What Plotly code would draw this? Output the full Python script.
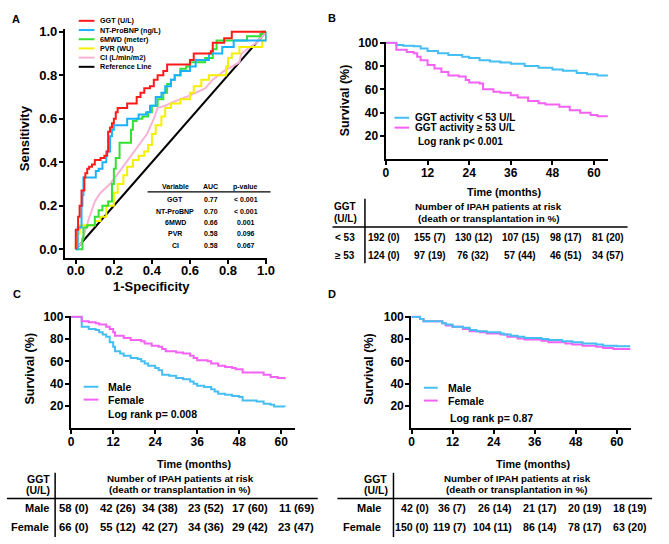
import plotly.graph_objects as go

W, H = 669, 544
FONT = "Liberation Sans, Arial, sans-serif"

# ---------------- DATA ----------------
# Panel A: ROC curves (1-specificity, sensitivity)
ggt_fpr = [0, 0, 0.012, 0.02, 0.03, 0.045, 0.05, 0.06, 0.07, 0.085, 0.10, 0.13, 0.15, 0.165, 0.17, 0.18, 0.19, 0.2, 0.21, 0.22, 0.26, 0.27, 0.3, 0.32, 0.34, 0.36, 0.39, 0.41, 0.43, 0.46, 0.48, 0.55, 0.6, 0.62, 0.71, 0.72, 0.78, 0.82, 1.0]
ggt_tpr = [0, 0.09, 0.15, 0.2, 0.27, 0.33, 0.35, 0.37, 0.38, 0.39, 0.41, 0.42, 0.43, 0.45, 0.54, 0.56, 0.58, 0.6, 0.63, 0.65, 0.65, 0.67, 0.67, 0.7, 0.72, 0.74, 0.75, 0.78, 0.8, 0.82, 0.85, 0.85, 0.87, 0.9, 0.91, 0.95, 0.97, 1.0, 1.0]
bnp_fpr = [0, 0.01, 0.02, 0.03, 0.035, 0.04, 0.105, 0.12, 0.14, 0.16, 0.18, 0.19, 0.2, 0.25, 0.27, 0.33, 0.37, 0.39, 0.42, 0.45, 0.47, 0.5, 0.52, 0.55, 0.6, 0.63, 0.7, 0.77, 0.83, 0.99, 1.0]
bnp_tpr = [0, 0.1, 0.1, 0.2, 0.25, 0.33, 0.36, 0.37, 0.4, 0.45, 0.52, 0.55, 0.57, 0.57, 0.6, 0.62, 0.63, 0.66, 0.7, 0.72, 0.75, 0.78, 0.8, 0.82, 0.84, 0.87, 0.9, 0.93, 0.96, 0.96, 1.0]
mwd_fpr = [0, 0.03, 0.035, 0.04, 0.06, 0.09, 0.1, 0.12, 0.14, 0.17, 0.19, 0.2, 0.21, 0.23, 0.28, 0.29, 0.3, 0.32, 0.35, 0.38, 0.4, 0.43, 0.46, 0.48, 0.5, 0.52, 0.55, 0.58, 0.6, 0.68, 0.72, 0.74, 0.88, 0.9, 0.97, 0.98, 1.0]
mwd_tpr = [0, 0, 0.05, 0.1, 0.11, 0.11, 0.15, 0.18, 0.2, 0.22, 0.3, 0.37, 0.42, 0.49, 0.49, 0.55, 0.59, 0.6, 0.61, 0.63, 0.66, 0.69, 0.72, 0.76, 0.78, 0.8, 0.83, 0.84, 0.86, 0.88, 0.92, 0.96, 0.96, 0.98, 0.99, 1.0, 1.0]
pvr_fpr = [0, 0, 0.01, 0.02, 0.08, 0.1, 0.13, 0.16, 0.2, 0.22, 0.25, 0.27, 0.3, 0.33, 0.36, 0.38, 0.4, 0.42, 0.45, 0.47, 0.5, 0.55, 0.6, 0.62, 0.66, 0.7, 0.78, 0.79, 0.8, 0.82, 0.86, 0.96, 0.98, 1.0]
pvr_tpr = [0, 0.03, 0.07, 0.11, 0.11, 0.13, 0.15, 0.2, 0.26, 0.3, 0.34, 0.38, 0.41, 0.43, 0.45, 0.48, 0.53, 0.57, 0.61, 0.65, 0.67, 0.69, 0.72, 0.75, 0.78, 0.8, 0.8, 0.84, 0.88, 0.9, 0.93, 0.93, 0.96, 1.0]
ci_fpr = [0, 0.03, 0.065, 0.1, 0.13, 0.18, 0.24, 0.29, 0.33, 0.374, 0.41, 0.43, 0.47, 0.52, 0.58, 0.63, 0.68, 0.72, 0.78, 0.82, 0.86, 0.87, 0.9, 0.95, 1.0]
ci_tpr = [0, 0.03, 0.13, 0.22, 0.26, 0.3, 0.37, 0.43, 0.48, 0.53, 0.6, 0.65, 0.66, 0.68, 0.7, 0.72, 0.74, 0.78, 0.82, 0.84, 0.86, 0.9, 0.92, 0.95, 1.0]
roc_names = ["GGT (U/L)", "NT-ProBNP (ng/L)", "6MWD (meter)", "PVR (WU)", "CI (L/min/m2)", "Reference Line"]
roc_vars = ["GGT", "NT-ProBNP", "6MWD", "PVR", "CI"]
roc_auc = ["0.77", "0.70", "0.66", "0.58", "0.58"]
roc_p = ["< 0.001", "< 0.001", "0.001", "0.096", "0.067"]

# Panel B: Kaplan-Meier by GGT activity
b_low_t = [0, 3, 5, 8, 10, 12, 15, 18, 22, 24, 27, 30, 33, 36, 40, 44, 48, 51, 55, 58, 61, 64]
b_low_s = [100, 98, 97.5, 97, 95, 93, 91, 89.5, 88, 87, 85, 84, 83, 82, 80, 78.5, 77, 76, 74, 73, 72, 71.5]
b_high_t = [0, 3, 6, 8, 9, 10, 12, 14, 16, 18, 21, 23, 24, 27, 28, 31, 33, 36, 38, 41, 44, 46, 50, 53, 56, 59, 61, 64]
b_high_s = [100, 94, 92, 91, 88, 85, 81, 78, 75, 72, 71, 68, 66, 65, 60, 58, 57, 55, 53, 50, 48, 47, 45, 42, 40, 38, 37, 37]
b_groups = ["GGT activity < 53 U/L", "GGT activity \u2265 53 U/L"]
b_logrank = "Log rank p< 0.001"
b_rows = ["< 53", "\u2265 53"]
b_risk = [["192 (0)", "155 (7)", "130 (12)", "107 (15)", "98 (17)", "81 (20)"],
          ["124 (0)", "97 (19)", "76 (32)", "57 (44)", "46 (51)", "34 (57)"]]

# Panel C: Kaplan-Meier by sex
c_male_t = [0, 3, 5, 7, 8, 9, 10, 11, 12, 12.5, 14, 15, 17, 19, 20, 21, 22, 24, 25, 26, 28, 30, 32, 34, 35, 36, 38, 40, 41, 42, 44, 46, 48, 49, 51, 53, 55, 57, 58, 61]
c_male_s = [100, 91, 89, 88, 86, 84, 82, 77, 73, 69, 67, 65, 63, 62, 60, 58, 56, 54, 52, 48, 47, 45, 44, 42, 40, 38, 37, 35, 33, 31, 30, 29, 28, 25, 25, 24, 22, 21, 19.5, 19]
c_fem_t = [0, 3, 5, 7, 8, 10, 11, 12, 12.5, 15, 17, 20, 21, 23, 25, 26, 27, 30, 32, 34, 35, 36, 39, 40, 42, 44, 46, 47, 49, 53, 55, 57, 59, 61]
c_fem_s = [100, 96, 95, 94, 93, 91, 89, 86, 83, 81, 79, 78, 76, 74, 73, 71, 69, 68, 67, 65, 63, 61, 60, 58, 56, 55, 54, 53, 50, 50, 48, 46, 45, 44]
c_logrank = "Log rank p= 0.008"
c_risk = [["58 (0)", "42 (26)", "34 (38)", "23 (52)", "17 (60)", "11 (69)"],
          ["66 (0)", "55 (12)", "42 (27)", "34 (36)", "29 (42)", "23 (47)"]]

# Panel D: Kaplan-Meier by sex
d_male_t = [0, 2.5, 3.5, 8, 9, 10, 12, 15, 17, 19, 22, 26, 27, 29, 31, 33, 38, 40, 44, 47, 50, 54, 56, 60, 64]
d_male_s = [100, 98, 96, 96, 94, 93, 91, 90, 88, 87, 86, 85, 84, 83, 82, 81, 80, 79, 78, 77, 76, 75, 74, 73.5, 73.5]
d_fem_t = [0, 2.5, 3.5, 8, 9, 10, 12, 15, 17, 20, 22, 26, 28, 31, 33, 38, 40, 45, 47, 50, 54, 56, 59, 64]
d_fem_s = [100, 98, 96, 96, 94, 92, 91, 89, 87, 86, 85, 84, 82, 80.5, 79.5, 78.5, 77, 76, 75, 74, 73, 72, 71, 71]
d_logrank = "Log rank p= 0.87"
d_risk = [["42 (0)", "36 (7)", "26 (14)", "21 (17)", "20 (19)", "18 (19)"],
          ["150 (0)", "119 (7)", "104 (11)", "86 (14)", "78 (17)", "63 (20)"]]
sex_groups = ["Male", "Female"]
risk_title = ["Number of IPAH patients at risk", "(death or transplantation in %)"]

# ---------------- STYLE ----------------
RED, BLUE_ROC, GREEN, YELLOW, PINK = "#ff1a1a", "#1ab2ff", "#33e033", "#f5f000", "#f7b3d6"
KM_BLUE, KM_MAG = "#45bff2", "#f462f4"

fig = go.Figure()
ann = []
shapes = []

def px(x):
    return x / W

def py(y):
    return 1 - y / H

def txt(x, y, s, size, anchor="center", angle=0, color="black"):
    ann.append(dict(x=px(x), y=py(y), xref="paper", yref="paper", text=s, showarrow=False,
                    xanchor=anchor, yanchor="middle", textangle=angle,
                    font=dict(family=FONT, size=size, color=color, weight="bold")))

def hline(x0, x1, y, color="black", width=1.5):
    shapes.append(dict(type="line", xref="paper", yref="paper", x0=px(x0), x1=px(x1),
                       y0=py(y), y1=py(y), line=dict(color=color, width=width)))

def vline(x, y0, y1, color="black", width=1.5):
    shapes.append(dict(type="line", xref="paper", yref="paper", x0=px(x), x1=px(x),
                       y0=py(y0), y1=py(y1), line=dict(color=color, width=width)))

def axis_style(domain, rng, tickvals, fmt, size, standoff=0):
    return dict(domain=domain, range=rng, tickvals=tickvals, tickformat=fmt,
                showline=True, linewidth=2, linecolor="black", ticks="outside",
                ticklen=4, tickwidth=2, tickcolor="black", showgrid=False, zeroline=False,
                ticklabelstandoff=standoff,
                tickfont=dict(family=FONT, size=size, color="black", weight="bold"))

# ---------------- PANEL A ----------------
roc_sets = [(ggt_fpr, ggt_tpr, RED, "hv"), (bnp_fpr, bnp_tpr, BLUE_ROC, "hv"),
            (mwd_fpr, mwd_tpr, GREEN, "hv"), (pvr_fpr, pvr_tpr, YELLOW, "hv"),
            (ci_fpr, ci_tpr, PINK, "linear")]
fig.add_trace(go.Scatter(x=[0, 1], y=[0, 1], mode="lines", line=dict(color="black", width=2),
                         xaxis="x", yaxis="y", showlegend=False, hoverinfo="skip"))
for (fx, fy, col, shp) in reversed(roc_sets):
    fig.add_trace(go.Scatter(x=fx, y=fy, mode="lines", line=dict(color=col, width=2, shape=shp),
                             xaxis="x", yaxis="y", showlegend=False))

leg_cols = [RED, BLUE_ROC, GREEN, YELLOW, PINK, "black"]
for i, (name, col) in enumerate(zip(roc_names, leg_cols)):
    yy = 15 + i * 9.3
    hline(77, 93, yy, color=col, width=2)
    txt(97, yy, name, 7.2, anchor="left")

txt(175, 183, "Variable", 7)
txt(211, 183, "AUC", 7)
txt(247, 183, "p-value", 7)
hline(147, 272, 188, width=1.2)
for i in range(len(roc_vars)):
    yy = 196 + i * 11.5
    txt(175, yy, roc_vars[i], 7)
    txt(211, yy, roc_auc[i], 7)
    txt(247, yy, roc_p[i], 7)

txt(13, 13, "A", 11)
txt(22, 134, "Sensitivity", 13, angle=-90)
txt(151, 284, "1-Specificity", 13)

# ---------------- KM PANELS ----------------
def km(t, s, col, xa, ya):
    fig.add_trace(go.Scatter(x=t, y=s, mode="lines", line=dict(color=col, width=2, shape="hv"),
                             xaxis=xa, yaxis=ya, showlegend=False))

km(b_low_t, b_low_s, KM_BLUE, "x2", "y2")
km(b_high_t, b_high_s, KM_MAG, "x2", "y2")
km(c_male_t, c_male_s, KM_BLUE, "x3", "y3")
km(c_fem_t, c_fem_s, KM_MAG, "x3", "y3")
km(d_fem_t, d_fem_s, KM_MAG, "x4", "y4")
km(d_male_t, d_male_s, KM_BLUE, "x4", "y4")

# Panel B labels
txt(334, 12, "B", 11)
txt(348, 95, "Survival (%)", 12.5, angle=-90)
txt(510, 188, "Time (months)", 10.8)
hline(398, 413, 113, color=KM_BLUE, width=2)
hline(398, 413, 123, color=KM_MAG, width=2)
txt(417, 113, b_groups[0], 10, anchor="left")
txt(417, 123, b_groups[1], 10, anchor="left")
txt(420, 137, b_logrank, 10, anchor="left")

# Panel C labels
txt(14, 291, "C", 11)
txt(27, 367, "Survival (%)", 12.5, angle=-90)
txt(195, 463, "Time (months)", 10.8)
hline(82, 97, 385, color=KM_BLUE, width=2)
hline(82, 97, 398, color=KM_MAG, width=2)
txt(105, 385, sex_groups[0], 10.5, anchor="left")
txt(105, 398, sex_groups[1], 10.5, anchor="left")
txt(105, 413, c_logrank, 10.5, anchor="left")

# Panel D labels
txt(334, 291, "D", 11)
txt(372, 367, "Survival (%)", 12.5, angle=-90)
txt(539, 463, "Time (months)", 10.8)
hline(428, 442, 386, color=KM_BLUE, width=2)
hline(428, 442, 399, color=KM_MAG, width=2)
txt(450, 386, sex_groups[0], 10.5, anchor="left")
txt(450, 399, sex_groups[1], 10.5, anchor="left")
txt(452, 417, d_logrank, 10.5, anchor="left")

# ---------------- RISK TABLES ----------------
# B table
txt(348, 203, "GGT", 10)
txt(348, 215, "(U/L)", 10)
vline(368, 195, 260)
hline(335, 635, 223.5)
txt(494, 203, risk_title[0], 9.8)
txt(494, 215, risk_title[1], 9.8)
b_cols = [387, 434, 478, 526, 572, 615]
for r in range(2):
    txt(348, 234 + r * 18, b_rows[r], 10)
    for c in range(6):
        txt(b_cols[c], 234 + r * 18, b_risk[r][c], 10)

# C table
txt(36, 478, "GGT", 10.5)
txt(36, 489, "(U/L)", 10.5)
vline(53, 472, 537)
hline(4, 320, 498)
txt(180, 478, risk_title[0], 9.8)
txt(180, 489, risk_title[1], 9.8)
c_cols = [72, 117, 160, 206, 251, 298]
for r in range(2):
    txt(49, 508 + r * 19, sex_groups[r], 11, anchor="right")
    for c in range(6):
        txt(c_cols[c], 508 + r * 19, c_risk[r][c], 11.3)

# D table
txt(379, 478, "GGT", 10.5)
txt(379, 489, "(U/L)", 10.5)
vline(397, 472, 537)
hline(340, 660, 498)
txt(523, 478, risk_title[0], 9.8)
txt(523, 489, risk_title[1], 9.8)
d_right = [435, 473, 520, 565, 611, 657]
for r in range(2):
    txt(386, 508 + r * 19, sex_groups[r], 11, anchor="right")
    for c in range(6):
        txt(d_right[c], 508 + r * 19, d_risk[r][c], 10.6, anchor="right")

# ---------------- AXES ----------------
roc_ticks = [0, 0.2, 0.4, 0.6, 0.8, 1.0]
km_xt = [0, 12, 24, 36, 48, 60]
km_yt = [20, 40, 60, 80, 100]

layout = dict(
    width=W, height=H, margin=dict(l=0, r=0, t=0, b=0),
    paper_bgcolor="white", plot_bgcolor="white", showlegend=False,
    xaxis=axis_style([px(63), px(268)], [-0.057, 1.003], roc_ticks, ".1f", 13, -5),
    yaxis=axis_style([py(255), py(23)], [-0.041, 1.014], roc_ticks, ".1f", 13, -1),
    xaxis2=axis_style([px(389), px(615)], [-0.1, 64], km_xt, "d", 12, -3),
    yaxis2=axis_style([py(155), py(36)], [0, 101], km_yt, "d", 12, -1),
    xaxis3=axis_style([px(69), px(297)], [-0.1, 64], km_xt, "d", 12, -3),
    yaxis3=axis_style([py(427), py(313)], [0, 101], km_yt, "d", 12, -1),
    xaxis4=axis_style([px(415), px(638)], [-0.1, 64], km_xt, "d", 12, -3),
    yaxis4=axis_style([py(427), py(313)], [0, 101], km_yt, "d", 12, -1),
    annotations=ann, shapes=shapes,
)
for k in ["", "2", "3", "4"]:
    layout["xaxis" + k]["anchor"] = "y" + k
    layout["yaxis" + k]["anchor"] = "x" + k
fig.update_layout(**layout)

fig.write_html("out.html", config={"displayModeBar": False},
               post_script="document.body.style.margin='0px';document.body.style.overflow='hidden';")
